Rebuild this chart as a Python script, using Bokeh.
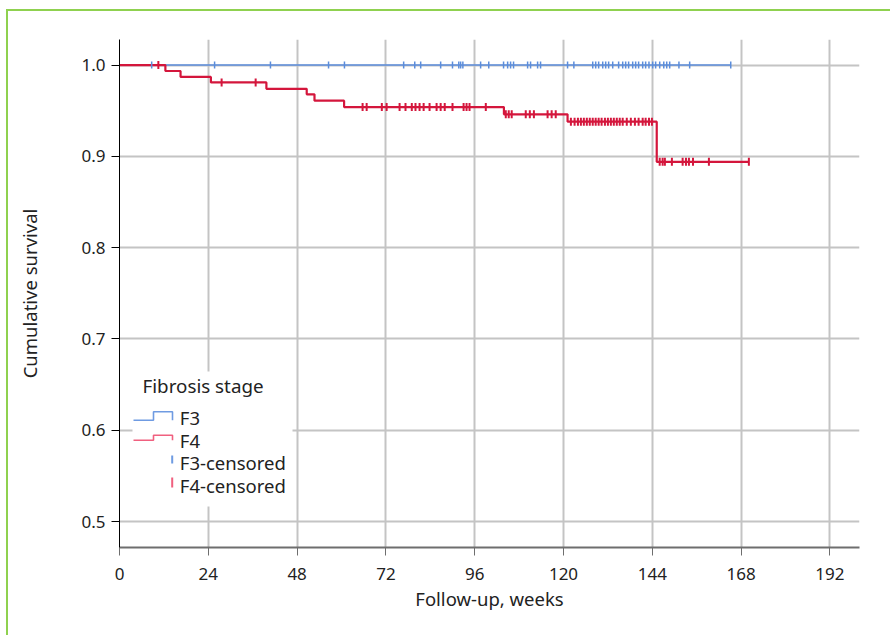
import numpy as np
from bokeh.plotting import figure
from bokeh.models import Range1d, FixedTicker, PrintfTickFormatter
from bokeh.core.properties import value
from bokeh.embed import file_html
from bokeh.resources import INLINE

# ---- data (weeks / cumulative survival) ----
f3_times = [0.0, 165.2]
f3_surv = [1.0, 1.0]
f3_censored = [8.7, 25.7, 40.8, 56.5, 60.8, 76.8, 79.8, 81.4, 86.8, 90.0, 91.7, 92.2, 92.8,
               97.6, 99.8, 103.8, 104.9, 105.7, 106.5, 110.3, 111.1, 113.0, 113.8, 121.1,
               122.8, 127.9, 128.7, 129.5, 130.6, 131.4, 132.2, 133.3, 134.9, 136.0, 136.8,
               137.6, 138.7, 139.5, 140.3, 141.4, 142.2, 143.1, 144.1, 144.9, 146.0, 147.1,
               147.9, 148.7, 151.2, 154.1, 165.2]

f4_times = [0.0, 12.4, 16.5, 24.7, 39.7, 50.6, 52.7, 60.7, 103.9, 121.1, 145.2, 170.1]
f4_surv = [1.0, 0.9935, 0.987, 0.981, 0.974, 0.968, 0.961, 0.954, 0.946, 0.938, 0.894, 0.894]
f4_censored = [10.5, 27.6, 36.8, 65.7, 66.8, 70.9, 72.2, 75.7, 77.3, 79.0, 80.0, 81.1, 82.2,
               83.8, 85.7, 86.8, 87.9, 90.0, 93.0, 93.8, 94.6, 99.0, 104.4, 105.2, 106.0,
               109.8, 110.9, 112.0, 115.7, 116.8, 117.9, 122.0, 123.0, 123.9, 124.7, 125.5,
               126.3, 127.1, 127.9, 128.7, 129.5, 130.3, 131.2, 132.0, 132.8, 133.6, 134.4,
               135.2, 136.0, 137.1, 138.2, 139.3, 140.3, 141.4, 142.2, 143.1, 143.9, 146.0,
               146.8, 147.4, 149.3, 152.2, 153.1, 153.9, 155.0, 159.3, 170.1]

x_ticks = [0, 24, 48, 72, 96, 120, 144, 168, 192]
y_ticks = [0.5, 0.6, 0.7, 0.8, 0.9, 1.0]

legend_title = "Fibrosis stage"
legend_labels = ["F3", "F4", "F3-censored", "F4-censored"]


def surv_at(times, surv, t):
    idx = np.searchsorted(np.array(times), np.array(t), side="right") - 1
    return list(np.array(surv)[idx])


BLUE = "#5b8ddb"
RED = "#d4163c"
BLUE_L = "#6f9be2"
RED_L = "#f0607f"
FONT = "Noto Sans"
FRAME_W, FRAME_H = 740, 508

p = figure(width=884, height=626, output_backend="svg", toolbar_location=None,
           x_range=Range1d(0, 200), y_range=Range1d(0.4716, 1.028),
           min_border_left=111, min_border_right=33, min_border_top=28, min_border_bottom=90,
           styles={"border-left": "2px solid #8fd14f", "border-top": "2px solid #8fd14f",
                   "border-right": "0px none", "border-bottom": "0px none",
                   "margin-left": "6px", "margin-top": "9px"})
p.outline_line_color = None
p.background_fill_color = "white"
p.border_fill_color = "white"

# pixel-like helper range for the legend box (frame-relative layout only)
p.extra_x_ranges["lg"] = Range1d(0, FRAME_W)
p.extra_y_ranges["lg"] = Range1d(0, FRAME_H)

# grid
for g in (p.xgrid, p.ygrid):
    g.grid_line_color = "#c4c4c4"
    g.grid_line_width = 2
p.xgrid.ticker = FixedTicker(ticks=x_ticks)
p.ygrid.ticker = FixedTicker(ticks=y_ticks)

# axes
p.xaxis.ticker = FixedTicker(ticks=x_ticks)
p.yaxis.ticker = FixedTicker(ticks=y_ticks)
p.yaxis.formatter = PrintfTickFormatter(format="%.1f")
p.xaxis.axis_label = "Follow-up, weeks"
p.yaxis.axis_label = "Cumulative survival"
for ax in (p.xaxis[0], p.yaxis[0]):
    ax.axis_label_text_font = FONT
    ax.axis_label_text_font_size = "18.5px"
    ax.axis_label_text_font_style = "normal"
    ax.axis_label_text_color = "#222222"
    ax.major_label_text_font = FONT
    ax.major_label_text_font_size = "17px"
    ax.major_label_text_color = "#222222"
    ax.minor_tick_line_color = None
    ax.major_tick_in = 0
    ax.major_tick_out = 8
p.yaxis.axis_line_color = "black"
p.yaxis.major_tick_line_color = "black"
p.yaxis.major_label_standoff = 6
p.yaxis.axis_label_standoff = 36
p.xaxis.axis_line_color = "#6e6e6e"
p.xaxis.axis_line_width = 2
p.xaxis.major_tick_line_color = "#6e6e6e"
p.xaxis.major_label_standoff = 12
p.xaxis.axis_label_standoff = 3

# curves
p.step(f3_times, f3_surv, mode="after", line_color=BLUE, line_width=1.5)
p.step(f4_times, f4_surv, mode="after", line_color=RED, line_width=2.2)
p.scatter(f3_censored, surv_at(f3_times, f3_surv, f3_censored), marker="dash",
          angle=np.pi / 2, size=7, line_color=BLUE, line_width=1.5)
p.scatter(f4_censored, surv_at(f4_times, f4_surv, f4_censored), marker="dash",
          angle=np.pi / 2, size=8, line_color=RED, line_width=2)

# ---- legend (drawn in frame-pixel helper range) ----
LG = dict(x_range_name="lg", y_range_name="lg")
p.quad(left=[13], right=[173], bottom=[41], top=[176], fill_color="white",
       line_color=None, **LG)
p.text(x=[23], y=[162], text=[legend_title], text_font=value(FONT),
       text_font_size="18.8px", text_color="#222222", text_baseline="middle", **LG)
# step icons
p.line(x=[14, 34, 34, 53, 53], y=[127.3, 127.3, 135.7, 135.7, 127.3],
       line_color=BLUE_L, line_width=1.6, **LG)
p.line(x=[14, 34, 34, 53, 53], y=[107.3, 107.3, 112.3, 112.3, 107.3],
       line_color=RED_L, line_width=1.6, **LG)
# censor icons
p.line(x=[52.7, 52.7], y=[84.0, 92.0], line_color=BLUE_L, line_width=2, **LG)
p.line(x=[52.7, 52.7], y=[60.0, 70.0], line_color=RED_L, line_width=2, **LG)
p.text(x=[60.3] * 4, y=[130.0, 107.0, 85.0, 62.5], text=legend_labels,
       text_font=value(FONT), text_font_size="18.5px", text_color="#222222",
       text_baseline="middle", **LG)

open("out.html", "w").write(file_html(p, INLINE))
